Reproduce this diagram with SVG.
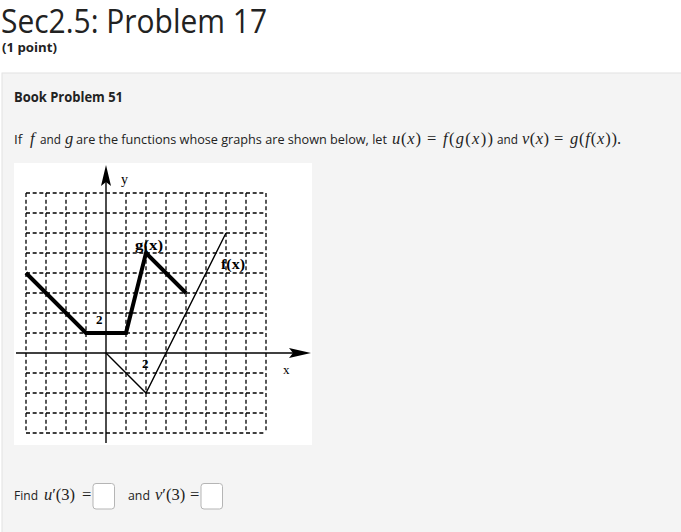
<svg xmlns="http://www.w3.org/2000/svg" width="681" height="532" viewBox="0 0 681 532">
<style>
.ui{font-family:"Open Sans","Noto Sans","Liberation Sans",sans-serif;fill:#222}
.m{font-family:"Liberation Serif","DejaVu Serif",serif;fill:#222;font-size:16.5px}
.i{font-style:italic}
.g{font-family:"Liberation Serif","DejaVu Serif",serif;fill:#000}
.grid line{stroke:#000;stroke-width:1.3;stroke-dasharray:4 2.667}
.box{fill:#fff;stroke:#b5b5b5;stroke-width:1}
</style>
<rect width="681" height="532" fill="#fff"/>
<g id="header">
<text class="ui" x="1" y="33" font-size="32" textLength="266" lengthAdjust="spacingAndGlyphs">Sec2.5: Problem 17</text>
<text class="ui" x="2" y="52" font-size="13" font-weight="bold" textLength="55" lengthAdjust="spacingAndGlyphs">(1 point)</text>
</g>
<rect x="2" y="73" width="690" height="470" fill="#f4f4f4" stroke="#e2e2e2"/>
<g id="problem">
<text class="ui" x="14" y="102" font-size="13.5" font-weight="bold" textLength="109" lengthAdjust="spacingAndGlyphs">Book Problem 51</text>
<text class="ui" x="14" y="144" font-size="13.5">If</text>
<text class="m i" x="30" y="144">f</text>
<text class="ui" x="40" y="144" font-size="13.5" textLength="21" lengthAdjust="spacingAndGlyphs">and</text>
<text class="m i" x="65" y="144">g</text>
<text class="ui" x="76" y="144" font-size="13.5" textLength="311" lengthAdjust="spacingAndGlyphs">are the functions whose graphs are shown below, let</text>
<text class="m" x="392" y="144" textLength="29" lengthAdjust="spacing"><tspan class="i">u</tspan>(<tspan class="i">x</tspan>)</text>
<text class="m" x="427" y="144">=</text>
<text class="m" x="443" y="144" textLength="50" lengthAdjust="spacing"><tspan class="i">f</tspan>(<tspan class="i">g</tspan>(<tspan class="i">x</tspan>))</text>
<text class="ui" x="497" y="144" font-size="13.5" textLength="21" lengthAdjust="spacingAndGlyphs">and</text>
<text class="m" x="522" y="144" textLength="27" lengthAdjust="spacing"><tspan class="i">v</tspan>(<tspan class="i">x</tspan>)</text>
<text class="m" x="554" y="144">=</text>
<text class="m" x="570" y="144" textLength="47" lengthAdjust="spacing"><tspan class="i">g</tspan>(<tspan class="i">f</tspan>(<tspan class="i">x</tspan>))</text>
<text class="m" x="617" y="144">.</text>
</g>
<g id="graph">
<rect x="14" y="163" width="298" height="282" fill="#fff"/>
<g class="grid">
<line x1="26" y1="193" x2="26" y2="433"/><line x1="46" y1="193" x2="46" y2="433"/><line x1="66" y1="193" x2="66" y2="433"/><line x1="86" y1="193" x2="86" y2="433"/>
<line x1="126" y1="193" x2="126" y2="433"/><line x1="146" y1="193" x2="146" y2="433"/><line x1="166" y1="193" x2="166" y2="433"/><line x1="186" y1="193" x2="186" y2="433"/>
<line x1="206" y1="193" x2="206" y2="433"/><line x1="226" y1="193" x2="226" y2="433"/><line x1="246" y1="193" x2="246" y2="433"/><line x1="266" y1="193" x2="266" y2="433"/>
<line x1="26" y1="193" x2="266" y2="193"/><line x1="26" y1="213" x2="266" y2="213"/><line x1="26" y1="233" x2="266" y2="233"/><line x1="26" y1="253" x2="266" y2="253"/>
<line x1="26" y1="273" x2="266" y2="273"/><line x1="26" y1="293" x2="266" y2="293"/><line x1="26" y1="313" x2="266" y2="313"/><line x1="26" y1="333" x2="266" y2="333"/>
<line x1="26" y1="373" x2="266" y2="373"/><line x1="26" y1="393" x2="266" y2="393"/><line x1="26" y1="413" x2="266" y2="413"/><line x1="26" y1="433" x2="266" y2="433"/>
</g>
<g id="axes">
<line x1="106" y1="180" x2="106" y2="443" stroke="#000" stroke-width="1.4"/>
<polygon points="106,165 111,186 106,182 101,186" fill="#000"/>
<line x1="16" y1="353" x2="294" y2="353" stroke="#000" stroke-width="1.4"/>
<polygon points="311,353 289,358 293,353 289,348" fill="#000"/>
<text class="g" x="121" y="184" font-size="14">y</text>
<text class="g" x="283" y="374" font-size="13">x</text>
<text class="g" x="96" y="324" font-size="13" font-weight="bold">2</text>
<text class="g" x="142" y="368" font-size="13" font-weight="bold">2</text>
</g>
<g id="g-curve">
<polyline points="26,273 86,333 126,333 146,253 186,293" fill="none" stroke="#000" stroke-width="4" stroke-linejoin="miter"/>
<text class="g" x="135" y="250" font-size="15" font-weight="bold" textLength="28" lengthAdjust="spacingAndGlyphs">g(x)</text>
</g>
<g id="f-curve">
<polyline points="106,353 146,393 226,233" fill="none" stroke="#000" stroke-width="1.4"/>
<text class="g" x="221" y="269" font-size="15" font-weight="bold" textLength="24" lengthAdjust="spacingAndGlyphs">f(x)</text>
</g>
</g>
<g id="answers">
<text class="ui" x="14" y="500" font-size="13.5" textLength="24" lengthAdjust="spacingAndGlyphs">Find</text>
<text class="m" x="44" y="500"><tspan class="i">u</tspan>′(3)</text>
<text class="m" x="82" y="500">=</text>
<rect class="box" x="93" y="483.5" width="21.5" height="25.5" rx="3"/>
<text class="ui" x="128" y="500" font-size="13.5" textLength="22" lengthAdjust="spacingAndGlyphs">and</text>
<text class="m" x="155" y="500"><tspan class="i">v</tspan>′(3)</text>
<text class="m" x="190" y="500">=</text>
<rect class="box" x="201" y="483.5" width="21.5" height="25.5" rx="3"/>
</g>
</svg>
